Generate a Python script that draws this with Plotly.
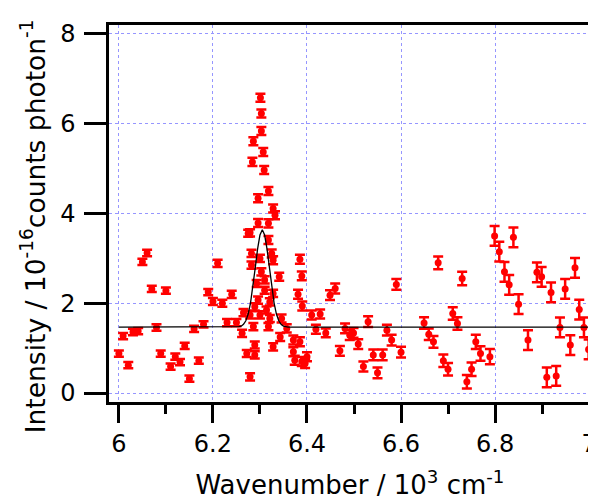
import plotly.graph_objects as go

# datos (numero de onda en 10^3 cm-1, intensidad en 10^-16)
wavenumber = [
    6.000, 6.009, 6.020, 6.030, 6.041, 6.050, 6.060, 6.070, 6.080, 6.089,
    6.100, 6.110, 6.120, 6.130, 6.140, 6.150, 6.160, 6.170, 6.180, 6.190,
    6.200, 6.210, 6.220, 6.230, 6.240, 6.250, 6.262, 6.265, 6.272, 6.275,
    6.279, 6.279, 6.279, 6.282, 6.282, 6.284, 6.286, 6.286, 6.289, 6.289,
    6.289, 6.293, 6.296, 6.296, 6.296, 6.300, 6.300, 6.301, 6.303, 6.303,
    6.303, 6.307, 6.309, 6.310, 6.310, 6.314, 6.318, 6.318, 6.318, 6.318,
    6.321, 6.321, 6.325, 6.328, 6.328, 6.328, 6.328, 6.332, 6.341, 6.343,
    6.346, 6.357, 6.371, 6.371, 6.374, 6.381, 6.385, 6.389, 6.385, 6.389,
    6.390, 6.396, 6.400, 6.410, 6.419, 6.428, 6.440, 6.449, 6.460, 6.470,
    6.481, 6.491, 6.499, 6.509, 6.520, 6.530, 6.541, 6.550, 6.561, 6.570,
    6.580, 6.590, 6.600, 6.649, 6.659, 6.669, 6.679, 6.690, 6.700, 6.710,
    6.720, 6.730, 6.740, 6.750, 6.759, 6.769, 6.789, 6.799, 6.809, 6.820,
    6.830, 6.839, 6.850, 6.870, 6.889, 6.899, 6.910, 6.919, 6.930, 6.938,
    6.949, 6.960, 6.970, 6.979, 6.989, 6.999,
]
intensity = [
    0.88, 1.27, 0.62, 1.36, 1.38, 2.92, 3.12, 2.32, 1.46, 0.88,
    2.28, 0.59, 0.81, 0.69, 1.05, 0.32, 1.43, 0.72, 1.53, 2.25,
    2.04, 2.89, 2.00, 1.57, 2.20, 1.57, 1.33, 1.79, 0.88, 3.56,
    0.36, 1.74, 3.57, 2.85, 3.11, 5.15, 5.61, 1.48, 1.92, 1.07,
    0.85, 2.44, 4.34, 3.79, 2.07, 3.00, 1.74, 6.58, 6.23, 5.84,
    2.70, 5.37, 4.97, 2.52, 2.29, 1.85, 4.50, 3.78, 3.41, 1.48,
    2.03, 1.66, 3.11, 4.11, 2.96, 2.22, 1.03, 3.96, 2.59, 1.25,
    1.66, 1.44, 0.92, 1.18, 0.73, 2.20, 2.98, 2.61, 1.14, 0.70,
    1.94, 0.66, 0.81, 1.74, 1.42, 1.76, 1.34, 2.18, 2.33, 0.94,
    1.44, 1.29, 1.34, 1.09, 0.59, 1.59, 0.85, 0.45, 0.85, 1.40,
    1.18, 2.42, 0.91, 1.56, 1.31, 1.14, 2.90, 0.72, 0.53, 1.77,
    1.55, 2.55, 0.25, 0.53, 1.14, 0.88, 0.81, 3.50, 3.15, 2.70,
    2.41, 3.47, 1.98, 1.18, 2.69, 2.59, 0.35, 2.24, 0.38, 1.46,
    2.32, 1.07, 2.79, 1.86, 1.46, 0.97,
]
error = [
    0.07, 0.07, 0.07, 0.07, 0.07, 0.07, 0.07, 0.07, 0.07, 0.07,
    0.07, 0.07, 0.07, 0.07, 0.07, 0.07, 0.07, 0.07, 0.07, 0.07,
    0.08, 0.08, 0.08, 0.08, 0.08, 0.08, 0.08, 0.08, 0.08, 0.08,
    0.08, 0.08, 0.08, 0.08, 0.08, 0.09, 0.09, 0.08, 0.08, 0.08,
    0.08, 0.08, 0.09, 0.09, 0.08, 0.08, 0.08, 0.09, 0.09, 0.09,
    0.08, 0.09, 0.09, 0.08, 0.08, 0.08, 0.09, 0.09, 0.09, 0.08,
    0.08, 0.08, 0.09, 0.09, 0.09, 0.08, 0.08, 0.09, 0.09, 0.09,
    0.09, 0.09, 0.10, 0.10, 0.10, 0.10, 0.10, 0.10, 0.10, 0.10,
    0.10, 0.10, 0.10, 0.10, 0.10, 0.10, 0.10, 0.11, 0.11, 0.11,
    0.11, 0.11, 0.11, 0.11, 0.11, 0.12, 0.12, 0.12, 0.12, 0.12,
    0.12, 0.12, 0.12, 0.13, 0.13, 0.13, 0.14, 0.14, 0.14, 0.14,
    0.14, 0.15, 0.15, 0.15, 0.16, 0.16, 0.17, 0.22, 0.22, 0.22,
    0.22, 0.22, 0.22, 0.22, 0.22, 0.22, 0.22, 0.22, 0.22, 0.22,
    0.22, 0.22, 0.22, 0.22, 0.22, 0.22,
]

fit_x = [6.000, 6.250, 6.255, 6.260, 6.265, 6.270, 6.275, 6.280, 6.285, 6.290,
         6.295, 6.300, 6.305, 6.310, 6.315, 6.320, 6.325, 6.330, 6.335, 6.340,
         6.345, 6.350, 6.355, 6.360, 7.000]
fit_y = [1.47, 1.47, 1.48, 1.49, 1.53, 1.61, 1.76, 2.01, 2.36, 2.79,
         3.21, 3.52, 3.64, 3.52, 3.21, 2.79, 2.36, 2.01, 1.76, 1.61,
         1.53, 1.49, 1.48, 1.47, 1.47]

fuente = "DejaVu Sans, Arial, sans-serif"
gridcolor = "rgb(150,150,255)"

fig = go.Figure()

fig.add_trace(go.Scatter(
    x=wavenumber, y=intensity, mode="markers",
    marker=dict(color="#ff0000", size=7),
    error_y=dict(type="data", array=error, color="#ff0000", thickness=2.5, width=5),
    showlegend=False,
))

fig.add_trace(go.Scatter(
    x=fit_x, y=fit_y, mode="lines",
    line=dict(color="black", width=1.3),
    showlegend=False,
))

# la pagina tiene 8 px de margen en el body, por eso 588x492
fig.update_layout(
    width=588, height=492,
    margin=dict(l=101, r=5, t=17, b=98),
    plot_bgcolor="white", paper_bgcolor="white",
    font=dict(family=fuente, size=24, color="black"),
)

# titulo del eje y como anotacion para poder bajarlo un poco
fig.add_annotation(
    text="Intensity / 10<sup>-16</sup>counts photon<sup>-1</sup>",
    xref="paper", yref="paper", x=-0.157, y=0.467,
    xanchor="center", yanchor="middle", textangle=-90,
    showarrow=False, font=dict(size=26.5),
)

fig.update_xaxes(
    range=[5.979, 7.004], tick0=6, dtick=0.2, tickformat="~g",
    showline=True, linecolor="black", linewidth=2.5, mirror=True,
    ticks="outside", ticklen=18, tickwidth=2.5, tickcolor="black",
    minor=dict(dtick=0.1, ticks="outside", ticklen=9, tickwidth=2.5, tickcolor="black", showgrid=False),
    showgrid=True, gridcolor=gridcolor, griddash="dot", gridwidth=1,
    zeroline=False, automargin=False, ticklabeloverflow="allow",
    tickfont=dict(size=24),
    title=dict(text="Wavenumber / 10<sup>3</sup> cm<sup>-1</sup>", standoff=21, font=dict(size=26)),
)
fig.update_yaxes(
    range=[-0.2, 8.2], tick0=0, dtick=2,
    showline=True, linecolor="black", linewidth=2.5, mirror=True,
    ticks="outside", ticklen=22, tickwidth=2.5, tickcolor="black",
    showgrid=True, gridcolor=gridcolor, griddash="dot", gridwidth=1,
    zeroline=False, automargin=False, ticklabelstandoff=4,
    tickfont=dict(size=24),
)

fig.write_html("out.html")
